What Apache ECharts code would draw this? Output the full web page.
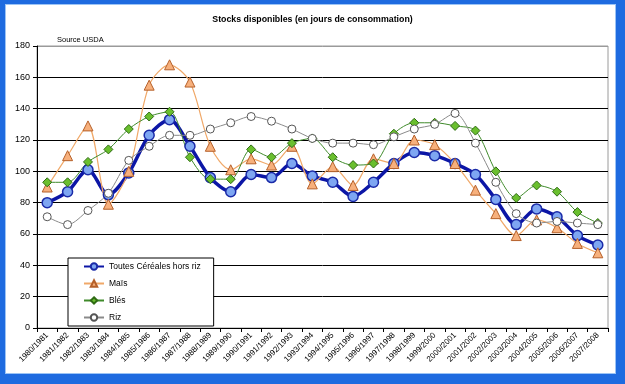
<!DOCTYPE html>
<html>
<head>
<meta charset="utf-8">
<script src="https://cdn.jsdelivr.net/npm/echarts@6/dist/echarts.min.js"></script>
<style>
html,body{margin:0;padding:0;width:625px;height:384px;overflow:hidden;background:#1e6be0;}
#frame{position:absolute;left:5px;top:4px;width:611px;height:370px;background:#fff;box-shadow:inset 0 0 0 1px #9cc4f5;}
#chart{position:absolute;left:0;top:0;width:625px;height:384px;}
</style>
</head>
<body>
<div id="frame"></div>
<div id="chart"></div>
<script>
const categories = ["1980/1981","1981/1982","1982/1983","1983/1984","1984/1985","1985/1986","1986/1987","1987/1988","1988/1989","1989/1990","1990/1991","1991/1992","1992/1993","1993/1994","1994/1995","1995/1996","1996/1997","1997/1998","1998/1999","1999/2000","2000/2001","2001/2002","2002/2003","2003/2004","2004/2005","2005/2006","2006/2007","2007/2008"];
const toutes = [80, 87, 101, 85, 99, 123, 133, 116, 96, 87, 98, 96, 105, 97, 93, 84, 93, 105, 112, 110, 105, 98, 82, 66, 76, 71, 59, 53];
const mais = [90, 110, 129, 79, 100, 155, 168, 157, 116, 101, 108, 104, 116, 92, 103, 91, 108, 105, 120, 117, 105, 88, 73, 59, 69, 64, 54, 48];
const bles = [93, 93, 106, 114, 127, 135, 138, 109, 95, 95, 114, 109, 118, 121, 109, 104, 105, 124, 131, 131, 129, 126, 100, 83, 91, 87, 74, 67];
const riz = [71, 66, 75, 86, 107, 116, 123, 123, 127, 131, 135, 132, 127, 121, 118, 118, 117, 122, 127, 130, 137, 118, 93, 73, 67, 68, 67, 66];
const yTicks = {min: 0, max: 180, interval: 20};

const chart = echarts.init(document.getElementById('chart'), null, {renderer: 'canvas'});
const font = 'Liberation Sans, Arial, sans-serif';
chart.setOption({
  backgroundColor: 'transparent',
  animation: false,
  textStyle: {fontFamily: font},
  title: [
    {text: 'Stocks disponibles (en jours de consommation)', left: 'center', top: 10,
     textStyle: {fontSize: 8.8, fontWeight: 'bold', color: '#000', fontFamily: font}},
    {text: 'Source USDA', left: 52, top: 31,
     textStyle: {fontSize: 7.5, fontWeight: 'normal', color: '#000', fontFamily: font}}
  ],
  grid: {left: 37, right: 17, top: 46, bottom: 56, show: true, borderColor: '#9a9a9a', borderWidth: 1, backgroundColor: 'transparent'},
  legend: {
    orient: 'vertical', left: 68, top: 258,
    backgroundColor: '#fff', borderColor: '#000', borderWidth: 1,
    padding: [4, 13, 4, 15], itemWidth: 20, itemHeight: 8, itemGap: 8, itemTextGap: 2,
    textStyle: {fontSize: 8.5, color: '#000', fontFamily: font},
    data: ['Toutes Céréales hors riz', 'Maïs', 'Blés', 'Riz']
  },
  xAxis: {
    type: 'category', data: categories, boundaryGap: true,
    axisLine: {lineStyle: {color: '#000', width: 1}},
    axisTick: {show: true, inside: false, length: 4, alignWithLabel: false, lineStyle: {color: '#000'}},
    axisLabel: {rotate: 45, fontSize: 8, color: '#000', margin: 6, interval: 0, fontFamily: font},
    splitLine: {show: false}
  },
  yAxis: {
    type: 'value', min: yTicks.min, max: yTicks.max, interval: yTicks.interval,
    axisLine: {show: true, lineStyle: {color: '#000', width: 1}},
    axisTick: {show: true, inside: false, length: 4, lineStyle: {color: '#000'}},
    axisLabel: {fontSize: 9, color: '#000', margin: 7, fontFamily: font},
    splitLine: {show: true, lineStyle: {color: ['#000','#000','#000','#000','#000','#000','#000','#000','#000','#9a9a9a'], width: 1}}
  },
  series: [
    {name: 'Toutes Céréales hors riz', type: 'line', data: toutes, smooth: 0.3,
     symbol: 'circle', symbolSize: 10,
     lineStyle: {color: '#0c16a6', width: 3.5},
     itemStyle: {color: '#7ea6f2', borderColor: '#1a2aa8', borderWidth: 1.5}},
    {name: 'Maïs', type: 'line', data: mais, smooth: 0.3,
     symbol: 'triangle', symbolSize: 10,
     lineStyle: {color: '#f0a868', width: 1.2},
     itemStyle: {color: '#f7b07c', borderColor: '#b5602a', borderWidth: 1}},
    {name: 'Blés', type: 'line', data: bles, smooth: 0.3,
     symbol: 'diamond', symbolSize: 9,
     lineStyle: {color: '#3f8a2a', width: 1},
     itemStyle: {color: '#6abf2e', borderColor: '#2f6b14', borderWidth: 1}},
    {name: 'Riz', type: 'line', data: riz, smooth: 0.3,
     symbol: 'circle', symbolSize: 8,
     lineStyle: {color: '#8a8a8a', width: 1},
     itemStyle: {color: '#fff', borderColor: '#555', borderWidth: 1}}
  ]
});
</script>
</body>
</html>
